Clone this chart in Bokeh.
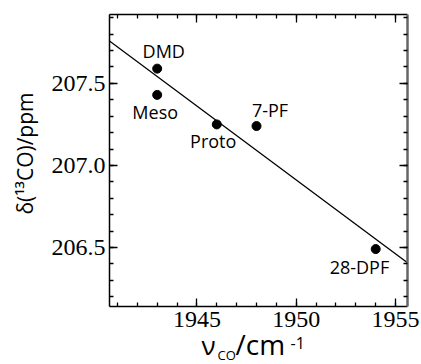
import numpy as np
from bokeh.plotting import figure
from bokeh.models import LinearAxis, Range1d, Label, ColumnDataSource, FixedTicker
from bokeh.core.properties import value
from bokeh.embed import file_html
from bokeh.resources import INLINE

# ---- data ----
compounds = ["DMD", "Meso", "Proto", "7-PF", "28-DPF"]
nu_co = [1943.0, 1943.0, 1946.0, 1948.0, 1954.0]
delta_13co = [207.59, 207.43, 207.25, 207.24, 206.49]
x_ticks = [1945, 1950, 1955]
y_ticks = [206.5, 207.0, 207.5]
y_tick_labels = {206.5: "206.5", 207.0: "207.0", 207.5: "207.5"}

# ---- styles / layout ----
label_dx = [6.6, -2.0, -3.6, 13.5, -16.3]
label_dy = [-17.8, 17.0, 16.4, -16.2, 17.8]
W, H = 421, 364
X0, X1 = 1940.6, 1955.6          # plot box x extent (data)
Y0, Y1 = 206.14, 207.92          # plot box y extent (data)
BL, BT, BR, BB = 109, 14, 407, 306   # plot box in canvas pixels

kx = (BR - BL) / (X1 - X0)
ky = (BB - BT) / (Y1 - Y0)
xr = Range1d(X0 - BL / kx, X1 + (W - BR) / kx)
yr = Range1d(Y0 - (H - BB) / ky, Y1 + BT / ky)

p = figure(width=W, height=H, x_range=xr, y_range=yr, x_axis_type=None, y_axis_type=None,
           output_backend="svg", toolbar_location=None, min_border=0)
p.title.visible = False
p.background_fill_color = "white"
p.border_fill_color = "white"
p.outline_line_color = None

x_minor = list(np.arange(1941, 1956, 1.0))
y_minor = list(np.round(np.arange(206.2, 207.95, 0.1), 1))

def make_axis(ticks, minor, loc, bounds, labels):
    ax = LinearAxis(ticker=FixedTicker(ticks=ticks, minor_ticks=minor),
                    fixed_location=loc, bounds=bounds)
    ax.major_tick_in = 8
    ax.major_tick_out = 0
    ax.minor_tick_in = 4
    ax.minor_tick_out = 0
    ax.axis_line_color = "black"
    ax.axis_line_width = 1.5
    ax.major_tick_line_color = "black"
    ax.minor_tick_line_color = "black"
    ax.major_tick_line_width = 1.3
    ax.minor_tick_line_width = 1.3
    if labels is None:
        ax.major_label_overrides = {t: "" for t in ticks}
    else:
        ax.major_label_overrides = labels
        ax.major_label_text_font = "Liberation Serif"
        ax.major_label_text_font_size = "24px"
        ax.major_label_text_color = "black"
        ax.major_label_standoff = 5
    return ax

bottom = make_axis(x_ticks, x_minor, Y0, (X0, X1), {t: str(t) for t in x_ticks})
left = make_axis(y_ticks, y_minor, X0, (Y0, Y1), y_tick_labels)
left.major_label_standoff = 4
top = make_axis(x_ticks, x_minor, Y1, (X0, X1), None)
right = make_axis(y_ticks, y_minor, X1, (Y0, Y1), None)
right.axis_line_color = "#666666"
right.axis_line_width = 2.5
p.add_layout(bottom, "below")
p.add_layout(left, "left")
p.add_layout(top, "above")
p.add_layout(right, "right")

# regression line
slope, intercept = np.polyfit(nu_co, delta_13co, 1)
lx = [X0, X1]
ly = [slope * v + intercept for v in lx]
p.line(lx, ly, line_color="black", line_width=1.3)

src = ColumnDataSource(dict(x=nu_co, y=delta_13co, name=compounds, dx=label_dx, dy=label_dy))
p.scatter("x", "y", source=src, size=9, color="black")
p.text("x", "y", text="name", source=src, x_offset="dx", y_offset="dy",
       text_font=value("Open Sans"), text_font_size="18px", text_color="black",
       text_align="center", text_baseline="alphabetic")

# axis titles (canvas pixel positions -> data)
def px2x(px):
    return xr.start + px / kx

def py2y(py):
    return yr.end - py / ky

p.add_layout(Label(x=px2x(24), y=py2y(153), text="δ(¹³CO)/ppm", angle=np.pi / 2,
                   text_font="Open Sans", text_font_size="21px", text_color="black",
                   text_align="center", text_baseline="middle"))

# (text, left px, baseline px, font size px)
parts = [("ν", 201, 356, 26), ("CO", 217, 360, 13), ("/cm", 235, 356, 28), ("-1", 290, 350, 16)]
for t, px, py, fs in parts:
    p.add_layout(Label(x=px2x(px), y=py2y(py - 0.44 * fs), text=t, text_font="Open Sans",
                       text_font_size=f"{fs}px", text_color="black",
                       text_align="left", text_baseline="alphabetic"))

open("out.html", "w").write(file_html(p, INLINE))
